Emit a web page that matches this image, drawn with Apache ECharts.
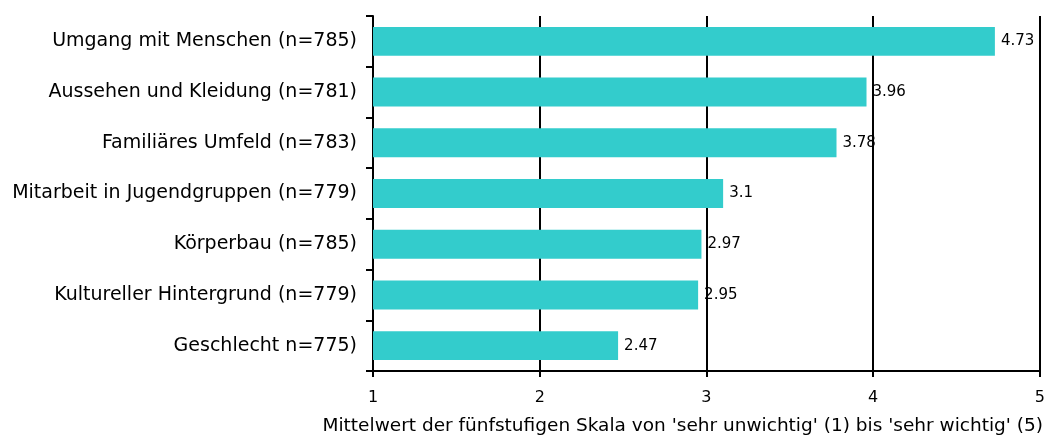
<!DOCTYPE html>
<html>
<head>
<meta charset="utf-8">
<script src="https://cdn.jsdelivr.net/npm/echarts@6/dist/echarts.min.js"></script>
<style>
  html, body { margin: 0; padding: 0; background: #fff; }
  #chart { width: 1048px; height: 438px; }
</style>
</head>
<body>
<div id="chart"></div>
<script>
// Kategorien (oben nach unten)
var categories = [
  "Umgang mit Menschen (n=785)",
  "Aussehen und Kleidung (n=781)",
  "Familiäres Umfeld (n=783)",
  "Mitarbeit in Jugendgruppen (n=779)",
  "Körperbau (n=785)",
  "Kultureller Hintergrund (n=779)",
  "Geschlecht n=775)"
];
var meanValues = [4.73, 3.96, 3.78, 3.1, 2.97, 2.95, 2.47];
var xTicks = [1, 2, 3, 4, 5];
var axisTitle = "Mittelwert der fünfstufigen Skala von 'sehr unwichtig' (1) bis 'sehr wichtig' (5)";

var font = "DejaVu Sans";
var chart = echarts.init(document.getElementById("chart"));

chart.setOption({
  animation: false,
  title: {
    text: axisTitle,
    right: 5,
    top: 417,
    padding: 0,
    textStyle: { fontSize: 18.5, fontWeight: "normal", color: "#000", fontFamily: font }
  },
  grid: { left: 373, right: 8, top: 16, bottom: 67, containLabel: false },
  xAxis: {
    type: "value",
    min: xTicks[0],
    max: xTicks[xTicks.length - 1],
    interval: 1,
    axisLine: { show: true, lineStyle: { color: "#000", width: 2 } },
    axisTick: { show: true, length: 6, lineStyle: { color: "#000", width: 2 } },
    axisLabel: { margin: 19, fontSize: 16, color: "#000", fontFamily: font },
    splitLine: { show: true, lineStyle: { color: "#000", width: 2 } }
  },
  yAxis: {
    type: "category",
    inverse: true,
    data: categories,
    axisLine: { show: true, lineStyle: { color: "#000", width: 2 } },
    axisTick: { show: true, length: 7, lineStyle: { color: "#000", width: 2 } },
    axisLabel: { margin: 16, fontSize: 19, color: "#000", fontFamily: font },
    splitLine: { show: false }
  },
  series: [{
    type: "bar",
    data: meanValues,
    barCategoryGap: "43%",
    itemStyle: { color: "#33CCCC" },
    label: {
      show: true,
      position: "right",
      distance: 6,
      fontSize: 15,
      color: "#000",
      fontFamily: font
    }
  }]
});
</script>
</body>
</html>
